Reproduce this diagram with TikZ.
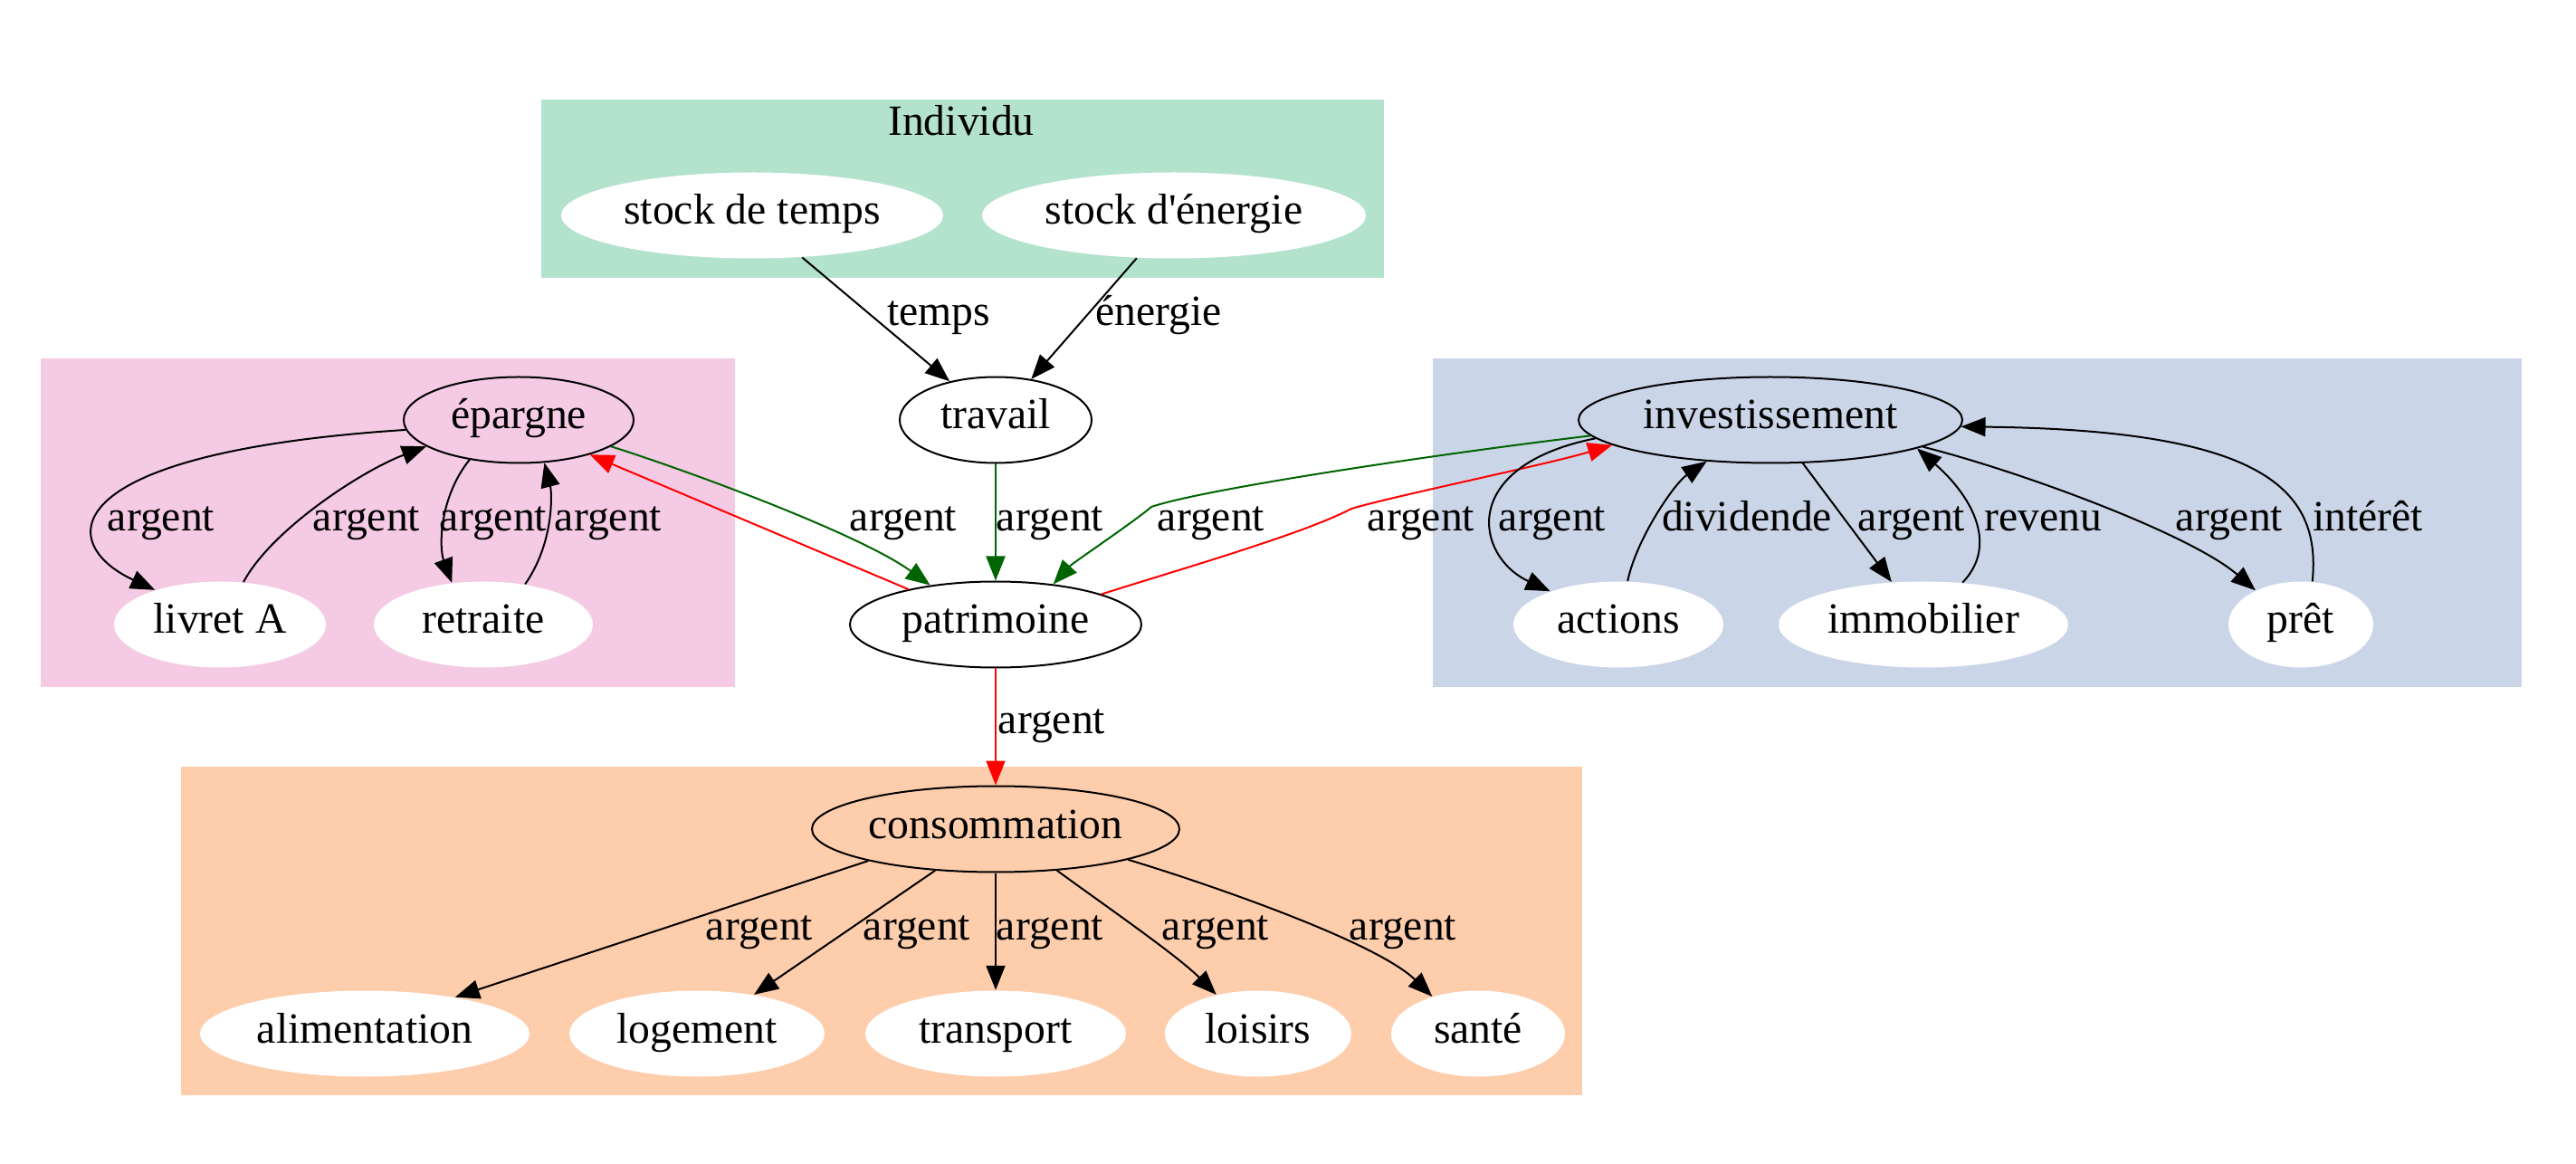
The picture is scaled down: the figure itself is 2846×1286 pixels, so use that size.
\documentclass[tikz,border=0pt]{standalone}
\usepackage{fontspec}
\setmainfont{Liberation Serif}[Ligatures=TeXOff]
\usetikzlibrary{shapes.geometric,arrows.meta}
\definecolor{cgreen}{HTML}{B3E2CD}
\definecolor{cpink}{HTML}{F4CAE4}
\definecolor{cblue}{HTML}{CBD5E8}
\definecolor{corange}{HTML}{FDCDAC}
\definecolor{edgegreen}{HTML}{006400}
\begin{document}
\begin{tikzpicture}[x=0.3pt,y=-0.3pt,
  every node/.style={font=\fontsize{14.3}{17}\selectfont, text height=9.5pt, text depth=3.5pt},
  base/.style={ellipse, inner sep=0pt, minimum height=28.5pt},
  wnode/.style={base, fill=white},
  bnode/.style={base, draw, line width=0.6pt},
  lbl/.style={inner sep=0pt},
  edge/.style={line width=0.6pt, -{Triangle[length=8.1pt,width=6.3pt]}},
  gedge/.style={edge, color=edgegreen},
  redge/.style={edge, color=red}]
\useasboundingbox (0,0) rectangle (2846,1286);
% clusters
\fill[cgreen] (598,110) rectangle (1529,307);
\fill[cpink] (45,396) rectangle (812,759);
\fill[cblue] (1583,396) rectangle (2786,759);
\fill[corange] (200,847) rectangle (1748,1210);
\node[lbl] (tind) at (1062,140) {Individu};
% nodes
\node[wnode, minimum width=126.6pt] (sdt) at (831,238) {stock de temps};
\node[wnode, minimum width=127.2pt] (sde) at (1297,238) {stock d'énergie};
\node[bnode, minimum width=63.6pt] (trav) at (1100,464) {travail};
\node[bnode, minimum width=76.2pt] (epa) at (573,464) {épargne};
\node[wnode, minimum width=70.2pt] (liv) at (243,690) {livret A};
\node[wnode, minimum width=72.6pt] (ret) at (534,690) {retraite};
\node[bnode, minimum width=96.6pt] (patr) at (1100,690) {patrimoine};
\node[bnode, minimum width=127.2pt] (inv) at (1956,464) {investissement};
\node[wnode, minimum width=69.6pt] (act) at (1788,690) {actions};
\node[wnode, minimum width=96pt] (immo) at (2125,690) {immobilier};
\node[wnode, minimum width=48pt] (pret) at (2542,690) {prêt};
\node[bnode, minimum width=121.8pt] (conso) at (1100,916) {consommation};
\node[wnode, minimum width=109.2pt] (alim) at (403,1142) {alimentation};
\node[wnode, minimum width=84.6pt] (loge) at (770,1142) {logement};
\node[wnode, minimum width=86.4pt] (trans) at (1100,1142) {transport};
\node[wnode, minimum width=61.8pt] (lois) at (1390,1142) {loisirs};
\node[wnode, minimum width=57.6pt] (sante) at (1633,1142) {santé};
% edges: Individu
\draw[edge] (sdt) -- (trav);
\draw[edge] (sde) -- (trav);
\node[lbl] (ltemps) at (1037,350) {temps};
\node[lbl] (lener) at (1280,350) {énergie};
% epargne
\draw[edge] (epa.185) .. controls (60,500) and (60,600) .. (liv.152.8);
\draw[edge] (liv.61.5) .. controls (300,585) and (400,520) .. (epa.196.3);
\draw[edge] (epa.219.2) .. controls (485,550) and (485,605) .. (ret.127.5);
\draw[edge] (ret.44.4) .. controls (612,600) and (610,545) .. (epa.-59.4);
\node[lbl] (la1) at (178,577) {argent};
\node[lbl] (la2) at (405,577) {argent};
\node[lbl] (la3) at (545,577) {argent};
\node[lbl] (la4) at (672,577) {argent};
% patrimoine links
\draw[gedge] (epa.-16.9) .. controls (760,520) and (950,590) .. (patr.149.2);
\draw[redge] (patr.158.2) -- (epa.-26.3);
\node[lbl] (la5) at (998,577) {argent};
\draw[gedge] (trav) -- (patr);
\node[lbl] (la6) at (1160,577) {argent};
\coordinate (k1) at (1272,560);
\draw[gedge] (inv.185.3) .. controls (1600,500) and (1330,540) .. (k1)
  .. controls (1255,575) and (1185,622) .. (patr.35.6);
\node[lbl] (la7) at (1338,577) {argent};
\coordinate (k2) at (1493,562);
\draw[redge] (patr.16.1) .. controls (1300,630) and (1440,590) .. (k2)
  .. controls (1540,548) and (1710,513) .. (inv.189.9);
\node[lbl] (la8) at (1570,577) {argent};
% investissement
\draw[edge] (inv.186.7) .. controls (1610,515) and (1630,615) .. (act.154.4);
\node[lbl] (la9) at (1715,577) {argent};
\draw[edge] (act.78.2) .. controls (1808,595) and (1850,534) .. (inv.213.3);
\node[lbl] (ldiv) at (1930,577) {dividende};
\draw[edge] (inv) -- (immo);
\node[lbl] (la10) at (2112,577) {argent};
\draw[edge] (immo.47.7) .. controls (2210,600) and (2175,545) .. (inv.-11.7);
\node[lbl] (lrev) at (2257,577) {revenu};
\draw[edge] (inv.-10.7) .. controls (2230,520) and (2420,590) .. (pret.143.5);
\node[lbl] (la11) at (2463,577) {argent};
\draw[edge] (pret.75.7) .. controls (2565,540) and (2500,475) .. (inv.-2.4);
\node[lbl] (lint) at (2616,577) {intérêt};
% consommation
\draw[redge] (patr) -- (conso);
\node[lbl] (la12) at (1162,800) {argent};
\draw[edge] (conso.194.3) -- (alim.22.7);
\draw[edge] (conso) -- (loge);
\draw[edge] (conso) -- (trans);
\draw[edge] (conso.-34.9) .. controls (1220,1000) and (1300,1055) .. (lois.137);
\draw[edge] (conso.-13.9) .. controls (1330,975) and (1520,1040) .. (sante.141.9);
\node[lbl] (la13) at (839,1028) {argent};
\node[lbl] (la14) at (1013,1028) {argent};
\node[lbl] (la15) at (1160,1028) {argent};
\node[lbl] (la16) at (1343,1028) {argent};
\node[lbl] (la17) at (1550,1028) {argent};
\end{tikzpicture}
\end{document}
